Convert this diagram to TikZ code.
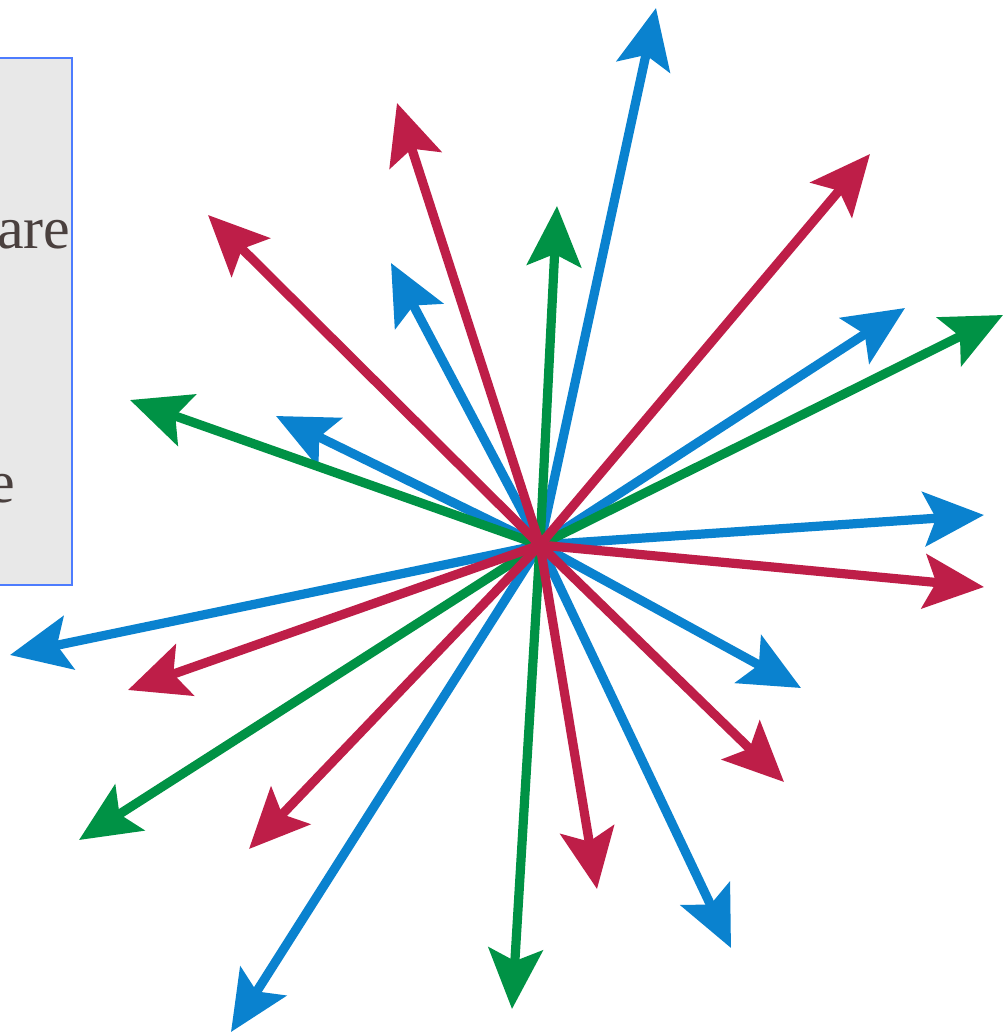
\documentclass[tikz,border=0pt]{standalone}
\usepackage{fontspec}
\setmainfont{Liberation Serif}
\usetikzlibrary{arrows.meta}
\definecolor{cblue}{HTML}{0A82CF}
\definecolor{cred}{HTML}{BE1E48}
\definecolor{cgreen}{HTML}{009245}
\definecolor{boxfill}{HTML}{E8E8E8}
\definecolor{boxline}{HTML}{4D7CFE}
\definecolor{txt}{HTML}{4A403E}
\begin{document}
\begin{tikzpicture}[x=0.5pt,y=-0.5pt,
  ray/.style={line width=4.6pt, -{Stealth[length=30pt,width=27pt,inset=6pt]}},
  lbl/.style={anchor=base east, inner sep=0pt, text=txt, font=\fontsize{30}{36}\selectfont},
  panel/.style={draw=boxline, fill=boxfill, line width=0.8pt, inner sep=0pt, minimum width=40pt, minimum height=263.5pt, anchor=north east}]
\useasboundingbox (0,0) rectangle (1003,1033);
\fill[white] (0,0) rectangle (1003,1033);
\node[panel] (box) at (73,57) {};
\node[lbl] (t1) at (71,248) {are};
\node[lbl] (t2) at (16,502) {e};
\coordinate (c) at (540,545);
% blue rays
\foreach \n/\x/\y in {b1/656/8, b2/391/263, b3/276/416, b4/905/308, b5/984/515, b6/10/655, b7/801/688, b8/731/948, b9/231/1032}{
  \coordinate (\n) at (\x,\y);
  \draw[ray, cblue] (c) -- (\n);
}
% green rays
\foreach \n/\x/\y in {g1/557/206, g2/130/400, g3/1003/315, g4/79/840, g5/512/1009}{
  \coordinate (\n) at (\x,\y);
  \draw[ray, cgreen] (c) -- (\n);
}
% red rays
\foreach \n/\x/\y in {r1/397/103, r2/208/215, r3/870/154, r4/984/587, r5/128/690, r6/784/782, r7/597/889, r8/249/849}{
  \coordinate (\n) at (\x,\y);
  \draw[ray, cred] (c) -- (\n);
}
\end{tikzpicture}
\end{document}
